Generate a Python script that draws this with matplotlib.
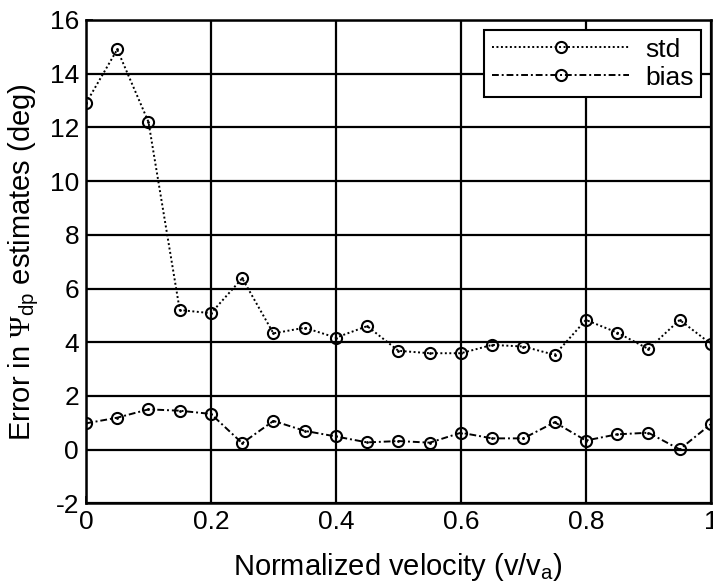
import matplotlib
matplotlib.use("Agg")
import matplotlib.pyplot as plt

plt.rcParams['font.family'] = ['Liberation Sans', 'DejaVu Sans']
plt.rcParams['mathtext.fontset'] = 'custom'
plt.rcParams['mathtext.rm'] = 'Liberation Sans'
plt.rcParams['mathtext.sf'] = 'Liberation Serif'
plt.rcParams['axes.unicode_minus'] = False

velocity = [0.0, 0.05, 0.1, 0.15, 0.2, 0.25, 0.3, 0.35, 0.4, 0.45, 0.5,
            0.55, 0.6, 0.65, 0.7, 0.75, 0.8, 0.85, 0.9, 0.95, 1.0]
std_vals = [12.9, 14.9, 12.2, 5.2, 5.08, 6.38, 4.33, 4.54, 4.17, 4.6, 3.68,
            3.59, 3.59, 3.9, 3.84, 3.53, 4.83, 4.36, 3.75, 4.83, 3.94]
bias_vals = [0.98, 1.19, 1.50, 1.45, 1.33, 0.24, 1.07, 0.70, 0.49, 0.27, 0.32,
             0.26, 0.63, 0.42, 0.42, 1.02, 0.34, 0.57, 0.63, 0.01, 0.95]
xticks = [0, 0.2, 0.4, 0.6, 0.8, 1]
xticklabels = ['0', '0.2', '0.4', '0.6', '0.8', '1']
yticks = [-2, 0, 2, 4, 6, 8, 10, 12, 14, 16]

fig = plt.figure(figsize=(7.13, 5.87), dpi=100)
ax = fig.add_axes([0.1206, 0.1425, 0.8764, 0.8235])

mk = dict(marker='o', markersize=8, markerfacecolor='none',
          markeredgecolor='black', markeredgewidth=1.5, color='black', linewidth=1.4)
ax.plot(velocity, std_vals, linestyle=(0, (1, 1.3)), label='std', **mk)
ax.plot(velocity, bias_vals, linestyle=(0, (3.5, 1.5, 1, 1.5)), label='bias', **mk)
# centre dots
ax.plot(velocity, std_vals, linestyle='none', marker='.', markersize=2, color='black')
ax.plot(velocity, bias_vals, linestyle='none', marker='.', markersize=2, color='black')

ax.set_xlim(0, 1)
ax.set_ylim(-2, 16)
ax.set_xticks(xticks)
ax.set_xticklabels(xticklabels)
ax.set_yticks(yticks)
ax.grid(True, color='black', linewidth=1.6, linestyle='-')
ax.set_axisbelow(True)
for s in ax.spines.values():
    s.set_linewidth(1.8)
ax.tick_params(direction='in', length=5, width=1.2, labelsize=19, pad=5)

ax.set_xlabel('Normalized velocity (v/v$_{\\mathrm{a}}$)', fontsize=21, labelpad=12)
ax.set_ylabel('Error in $\\mathsf{\\Psi}_{\\mathrm{dp}}$ estimates (deg)', fontsize=21, labelpad=6)

leg = ax.legend(loc='upper right', fontsize=19, frameon=True, fancybox=False,
                edgecolor='black', framealpha=1, handlelength=5.2,
                borderaxespad=0.0, borderpad=0.3, labelspacing=0.15,
                handletextpad=0.6, bbox_to_anchor=(0.985, 0.98))
leg.get_frame().set_linewidth(1.5)

fig.savefig('out.png', dpi=100)
